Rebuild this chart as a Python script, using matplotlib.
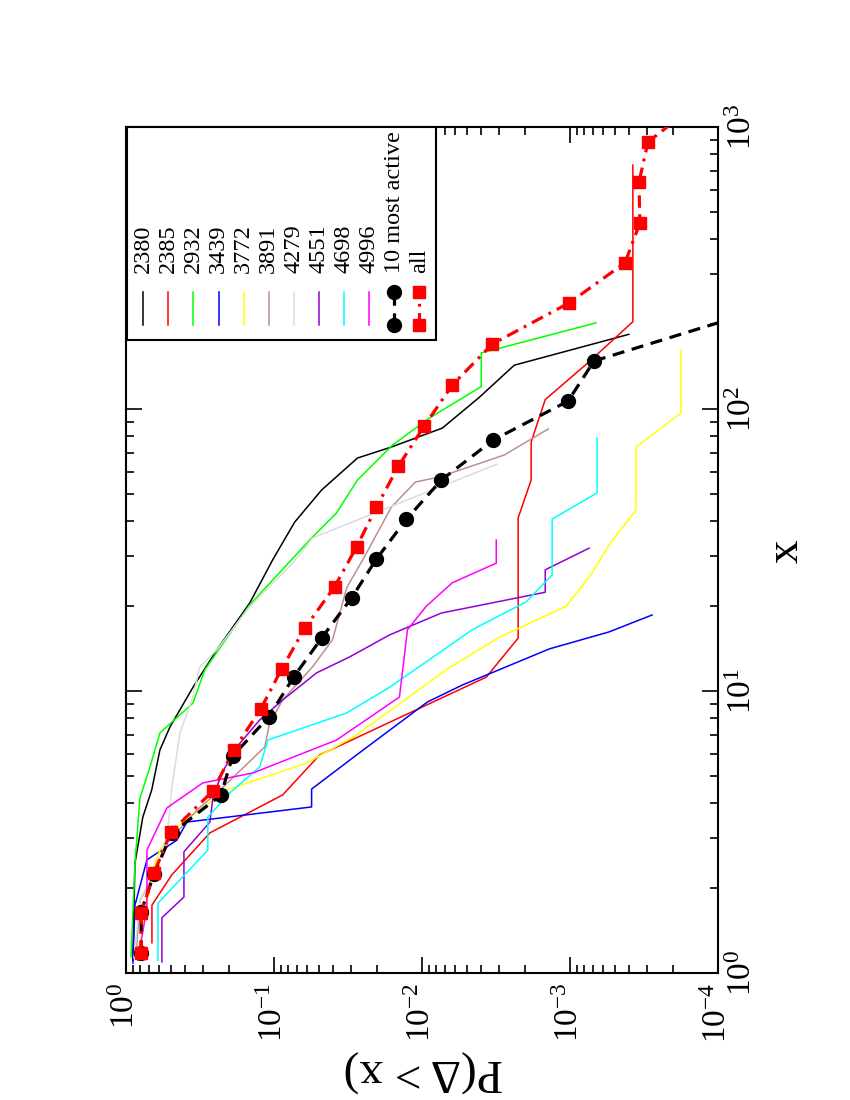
import numpy as np
import matplotlib
matplotlib.use('Agg')
import matplotlib.pyplot as plt
from matplotlib.ticker import LogLocator, LogFormatterMathtext, NullFormatter
from matplotlib.lines import Line2D
from matplotlib.patches import Rectangle

plt.rcParams['font.family'] = ['Liberation Serif', 'DejaVu Serif']
plt.rcParams['mathtext.fontset'] = 'custom'
plt.rcParams['mathtext.rm'] = 'Liberation Serif'
plt.rcParams['mathtext.it'] = 'Liberation Serif:italic'
plt.rcParams['mathtext.bf'] = 'Liberation Serif:bold'

# ---------------- data (x, P(Delta > x)) ----------------
s2380_x = [1.11, 2.45, 2.73, 3.57, 4.46, 6.18, 7.45, 10.3, 14.0, 20.5, 29.2, 39.7, 51.6, 67.0, 73.3, 85.6, 110, 143, 184]
s2380_P = [0.90, 0.87, 0.84, 0.77, 0.67, 0.59, 0.505, 0.353, 0.243, 0.146, 0.102, 0.0725, 0.0477, 0.0273, 0.0161, 0.00728, 0.0041, 0.00238, 0.0004]

s2385_x = [1.28, 1.74, 2.23, 3.14, 4.28, 5.93, 11.2, 15.4, 41.1, 56.0, 76.4, 108, 147, 204, 733]
s2385_P = [0.668, 0.668, 0.490, 0.271, 0.0874, 0.0492, 0.00368, 0.00224, 0.00224, 0.00183, 0.00183, 0.00147, 0.000743, 0.000376, 0.000376]

s2932_x = [1.14, 2.45, 4.17, 5.38, 7.10, 9.06, 11.9, 20.2, 35.2, 42.8, 56.0, 74.5, 92.9, 120, 158, 202]
s2932_P = [0.925, 0.870, 0.805, 0.689, 0.590, 0.353, 0.293, 0.146, 0.0548, 0.0378, 0.0273, 0.0158, 0.00891, 0.00398, 0.00398, 0.000667]

s3439_x = [1.085, 1.74, 2.52, 2.96, 3.43, 3.88, 4.49, 5.93, 9.14, 10.5, 14.1, 16.2, 18.6]
s3439_P = [0.897, 0.870, 0.722, 0.453, 0.388, 0.0557, 0.0557, 0.0277, 0.0092, 0.00534, 0.00138, 0.000545, 0.000279]

s3772_x = [1.16, 1.74, 2.32, 2.73, 3.29, 4.46, 5.55, 6.98, 12.1, 15.5, 20.0, 26.2, 33.8, 43.8, 73.3, 96.8, 162]
s3772_P = [0.830, 0.722, 0.658, 0.590, 0.453, 0.2085, 0.0602, 0.0277, 0.00654, 0.00301, 0.00106, 0.00071, 0.000528, 0.000358, 0.000358, 0.000178, 0.000178]

s3891_x = [1.13, 1.81, 2.26, 2.84, 3.78, 4.35, 6.33, 7.70, 9.29, 12.2, 15.2, 23.2, 29.9, 44.9, 55.1, 57.4, 68.7, 85.0]
s3891_P = [0.856, 0.805, 0.637, 0.546, 0.332, 0.243, 0.1155, 0.107, 0.0874, 0.0548, 0.0402, 0.0323, 0.0245, 0.0161, 0.01107, 0.00763, 0.00278, 0.0014]

s4279_x = [1.13, 1.81, 2.52, 3.21, 3.88, 4.57, 7.10, 9.52, 12.2, 14.0, 19.9, 28.4, 34.9, 44.9, 63.8]
s4279_P = [0.883, 0.805, 0.590, 0.521, 0.505, 0.490, 0.432, 0.353, 0.317, 0.243, 0.146, 0.0748, 0.0548, 0.0166, 0.0031]

s4551_x = [1.094, 1.57, 1.86, 2.69, 3.43, 4.17, 5.12, 6.33, 7.89, 9.29, 11.6, 13.2, 15.8, 18.9, 22.4, 26.9, 32.1]
s4551_P = [0.572, 0.572, 0.406, 0.406, 0.271, 0.259, 0.225, 0.1785, 0.125, 0.0874, 0.0515, 0.0309, 0.0166, 0.0074, 0.00147, 0.00147, 0.000743]

s4698_x = [1.11, 1.77, 2.14, 2.73, 3.57, 4.35, 5.38, 6.70, 8.36, 10.3, 16.5, 20.7, 25.8, 40.7, 50.4, 78.9]
s4698_P = [0.608, 0.608, 0.432, 0.280, 0.280, 0.199, 0.125, 0.110, 0.0323, 0.0166, 0.00457, 0.00198, 0.00132, 0.00132, 0.000656, 0.000656]

s4996_x = [1.11, 1.71, 2.73, 3.85, 4.72, 5.12, 6.70, 9.52, 16.5, 20.0, 24.2, 28.4, 34.3]
s4996_P = [0.830, 0.722, 0.722, 0.529, 0.303, 0.139, 0.0378, 0.0142, 0.01254, 0.00934, 0.00624, 0.00315, 0.00315]

active_x = [1.18, 1.65, 2.24, 3.13, 4.27, 5.88, 8.09, 11.2, 15.4, 21.4, 29.4, 40.7, 56.0, 77.6, 106.7, 148, 224]
active_P = [0.79, 0.79, 0.648, 0.49, 0.229, 0.19, 0.1086, 0.0737, 0.0477, 0.0299, 0.0203, 0.01273, 0.0074, 0.0033, 0.00103, 0.000688, 0.000053]

all_x = [1.18, 1.63, 2.26, 3.16, 4.42, 6.18, 8.63, 11.97, 16.7, 23.4, 32.4, 44.9, 62.8, 87.1, 121.6, 170, 238, 330, 457, 638, 885, 1150]
all_P = [0.79, 0.79, 0.648, 0.497, 0.259, 0.187, 0.123, 0.0887, 0.062, 0.039, 0.0277, 0.0203, 0.01442, 0.00964, 0.00624, 0.00335, 0.00101, 0.000425, 0.000337, 0.000342, 0.000297, 0.000157]

series_names = ['2380', '2385', '2932', '3439', '3772', '3891', '4279', '4551', '4698', '4996']
series_x = [s2380_x, s2385_x, s2932_x, s3439_x, s3772_x, s3891_x, s4279_x, s4551_x, s4698_x, s4996_x]
series_P = [s2380_P, s2385_P, s2932_P, s3439_P, s3772_P, s3891_P, s4279_P, s4551_P, s4698_P, s4996_P]
series_colors = ['#000000', '#ff0000', '#00ff00', '#0000ff', '#ffff00',
                 '#bc8f8f', '#dcdcdc', '#9400d3', '#00ffff', '#ff00ff']

# ---------------- figure ----------------
W, H = 850, 1100
fig = plt.figure(figsize=(8.5, 11), dpi=100)
L, R, T, B = 126, 718, 127, 973
ax = fig.add_axes([L / W, 1 - B / H, (R - L) / W, (B - T) / H])
ax.set_xscale('log')
ax.set_yscale('log')

for xs, ps, c in zip(series_x, series_P, series_colors):
    ax.plot(ps, xs, color=c, lw=1.1, zorder=2)

black_style = dict(color='black', lw=2.3, dashes=(3.8, 2.4), marker='o', ms=10,
                   mfc='black', mec='black')
red_style = dict(color='red', lw=2.3, dashes=(3.9, 2.0, 0.9, 2.0), marker='s', ms=9,
                 mfc='red', mec='red')
ax.plot(active_P, active_x, zorder=3, **black_style)
ax.plot(all_P, all_x, zorder=4, **red_style)

ax.set_xlim(1, 1e-4)
ax.set_ylim(1, 1000)

for axis in (ax.xaxis, ax.yaxis):
    axis.set_major_locator(LogLocator(base=10, numticks=20))
    axis.set_minor_locator(LogLocator(base=10, subs=np.arange(2, 10), numticks=200))
    axis.set_major_formatter(LogFormatterMathtext())
    axis.set_minor_formatter(NullFormatter())

ax.tick_params(which='both', direction='in', top=True, bottom=True, left=True, right=True,
               labelleft=False, labelright=True, labelbottom=True, labeltop=False,
               width=1.2, labelsize=24)
ax.tick_params(which='major', length=11.5, pad=7)
ax.tick_params(which='minor', length=5.8)
ax.tick_params(axis='x', labelrotation=90)
ax.tick_params(axis='y', labelrotation=90)
for t in ax.yaxis.get_majorticklabels():
    t.set_va('center')
for sp in ax.spines.values():
    sp.set_linewidth(1.5)

# ---------------- legend (rotated, manual) ----------------
def fx(px):
    return (px - L) / (R - L)

def fy(py):
    return (B - py) / (B - T)

ax.add_patch(Rectangle((fx(127), fy(340)), fx(436) - fx(127), fy(127) - fy(340),
                       transform=ax.transAxes, fc='white', ec='black', lw=1.5, zorder=10,
                       clip_on=False))
legend_labels = series_names + ['10 most active', 'all']
for i, lab in enumerate(legend_labels):
    xf = fx(143.3 + 25.1 * i)
    if i < 10:
        ax.add_line(Line2D([xf, xf], [fy(325), fy(292)], transform=ax.transAxes,
                           color=series_colors[i], lw=1.1, zorder=11))
    elif i == 10:
        ax.add_line(Line2D([xf, xf], [fy(325), fy(292)], transform=ax.transAxes,
                           zorder=11, **black_style))
    else:
        ax.add_line(Line2D([xf, xf], [fy(325), fy(292)], transform=ax.transAxes,
                           zorder=11, **red_style))
    ax.text(xf, fy(273), lab, transform=ax.transAxes, rotation=90, rotation_mode='anchor',
            ha='left', va='center', fontsize=17.5, zorder=12)

# ---------------- axis labels ----------------
fig.text(423 / W, 1 - 1071 / H, 'P(Δ > x)', rotation=180, ha='center', va='center', fontsize=34)
fig.text(786 / W, 1 - 551 / H, 'x', rotation=90, ha='center', va='center', fontsize=34)

fig.savefig('out.png', dpi=100)
